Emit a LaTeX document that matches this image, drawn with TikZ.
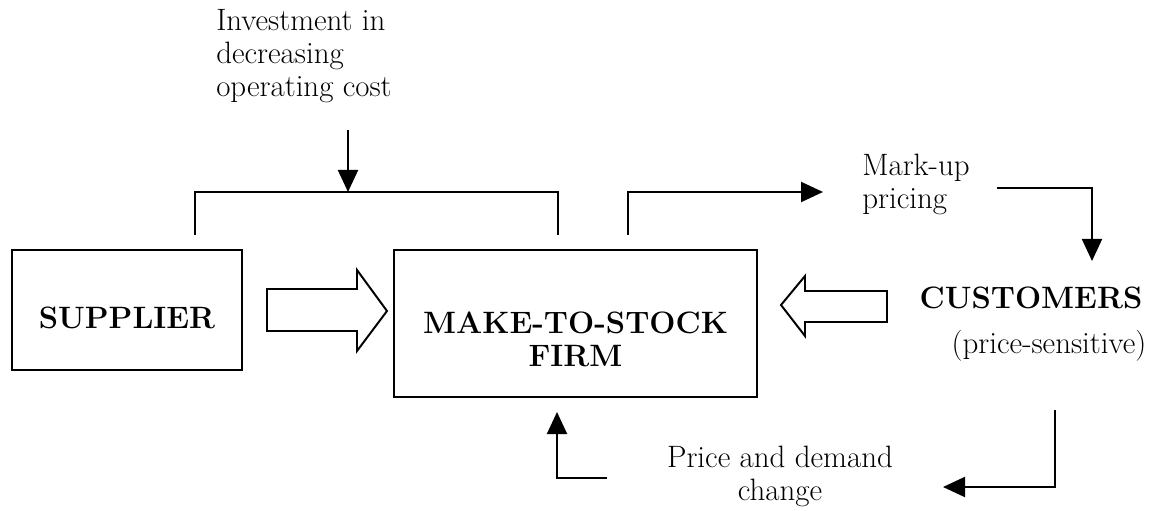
\documentclass[tikz,border=0pt]{standalone}
\usetikzlibrary{arrows.meta,positioning,calc}

\tikzset{
  box/.style={rectangle,draw=black,line width=1.4pt,inner sep=0pt},
  txt/.style={rectangle,inner sep=0pt,font=\fontsize{22}{23.5}\selectfont},
  btxt/.style={txt,font=\fontsize{22}{23.5}\selectfont\bfseries},
  link/.style={line width=1.4pt,-{Triangle[length=0.55cm,width=0.5cm]}},
  bracket/.style={line width=1.4pt},
  fat/.style={draw=black,line width=1.4pt,line join=miter,fill=white}
}

\begin{document}
\begin{tikzpicture}[x=0.025cm,y=-0.025cm]
		\useasboundingbox (0,0) rectangle (1163,511);
		% boxes
		\node[box,minimum width=5.75cm,minimum height=3cm] (sup) at (127,310) {};
		\node[btxt] (suptxt) at (127,318) {SUPPLIER};
		\node[box,minimum width=9.075cm,minimum height=3.675cm] (firm) at (575.5,323.5) {};
		\node[btxt,align=center] (firmtxt) at (575.5,339) {MAKE-TO-STOCK\\FIRM};
		\node[btxt] (cust) at (1031,298) {CUSTOMERS};
		\node[txt] (sens) at (1049,346) {(price-sensitive)};
		% labels
		\node[txt,anchor=west,align=left] (invest) at (216,56) {Investment in\\decreasing\\operating cost};
		\node[txt,anchor=west,align=left] (markup) at (862,184) {Mark-up\\pricing};
		\node[txt,align=center] (change) at (780,476) {Price and demand\\change};

		% end points of the connectors
		\coordinate (inv0) at (348,130);
		\coordinate (top) at (348,192);
		\coordinate (bl) at (195,235);
		\coordinate (br) at (558,235);
		\coordinate (m0) at (628,235);
		\coordinate (m1) at (823,192);
		\coordinate (c0) at (997,188);
		\coordinate (c1) at (1092,261);
		\coordinate (d0) at (1055,410);
		\coordinate (d1) at (943,487);
		\coordinate (f0) at (607,478);
		\coordinate (f1) at (557,412);

		\draw[bracket] (bl) |- (top) -| (br);
		\draw[link] (inv0) -- (top);
		\draw[link] (m0) |- (m1);
		\draw[link] (c0) -| (c1);
		\draw[link] (d0) |- (d1);
		\draw[link] (f0) -| (f1);

		% hollow flow arrows
		\draw[fat] (267,289) -- (357,289) -- (357,270) -- (387,311) -- (357,351) -- (357,331) -- (267,331) -- cycle;
		\draw[fat] (887,291) -- (805,291) -- (805,276) -- (781,305) -- (805,336) -- (805,322) -- (887,322) -- cycle;
	\end{tikzpicture}
\end{document}
